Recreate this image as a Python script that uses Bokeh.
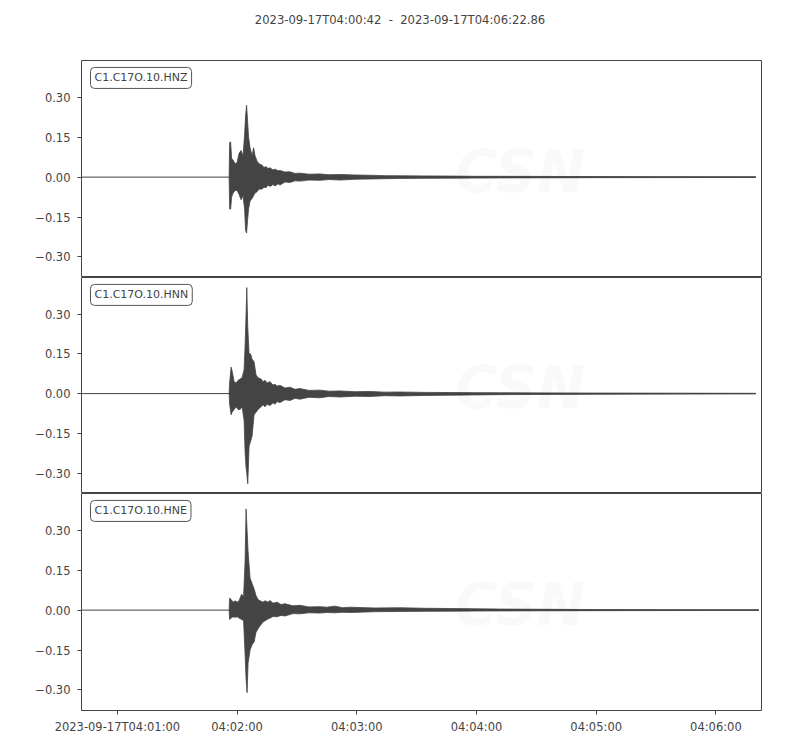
from bokeh.plotting import figure
from bokeh.models import Range1d, FixedTicker, Label, ColumnDataSource, Div
from bokeh.layouts import column
from bokeh.embed import file_html
from bokeh.resources import INLINE

# ---------------- data (seconds after 2023-09-17T04:00:42) ----------------
title_text = "2023-09-17T04:00:42  -  2023-09-17T04:06:22.86"
duration = 340.86
channels = ["C1.C17O.10.HNZ", "C1.C17O.10.HNN", "C1.C17O.10.HNE"]
trace_end = [338.0, 338.0, 339.5]

x_ticks = [18, 78, 138, 198, 258, 318]
x_tick_labels = ["2023-09-17T04:01:00", "04:02:00", "04:03:00",
                 "04:04:00", "04:05:00", "04:06:00"]
y_ticks = [-0.30, -0.15, 0.0, 0.15, 0.30]
y_tick_labels = ["\u22120.30", "\u22120.15", "0.00", "0.15", "0.30"]

# envelope of each trace: time, upper amplitude, lower amplitude
hnz_t = [74.0, 74.25, 74.75, 75.25, 76.0, 77.0, 78.0, 79.0, 80.0, 81.0, 81.75, 82.25,
         82.75, 83.25, 83.75, 84.5, 85.5, 86.25, 87.0, 88.0, 89.0, 90.5, 91.5, 92.5,
         93.5, 94.5, 96.0, 97.0, 98.5, 99.5, 102.0, 104.5, 107.0, 109.5, 114.0, 119.5,
         124.0, 129.5, 137.0, 144.5, 152.0, 159.5, 172.0, 184.5, 197.0, 209.5, 234.5,
         259.5, 284.5, 309.5, 338.0]
hnz_up = [0.0, 0.13, 0.132, 0.07, 0.064, 0.05, 0.055, 0.09, 0.10, 0.08, 0.16, 0.23,
          0.27, 0.21, 0.15, 0.11, 0.08, 0.11, 0.08, 0.06, 0.05, 0.045, 0.036, 0.04,
          0.032, 0.035, 0.027, 0.03, 0.024, 0.025, 0.019, 0.02, 0.014, 0.015, 0.011,
          0.012, 0.009, 0.010, 0.008, 0.007, 0.0055, 0.005, 0.0045, 0.004, 0.003,
          0.003, 0.0025, 0.002, 0.0018, 0.0015, 0.001]
hnz_lo = [0.0, -0.12, -0.12, -0.075, -0.06, -0.05, -0.05, -0.065, -0.085, -0.07, -0.12,
          -0.20, -0.21, -0.16, -0.12, -0.09, -0.08, -0.07, -0.06, -0.055, -0.045, -0.045,
          -0.038, -0.04, -0.03, -0.035, -0.028, -0.033, -0.025, -0.03, -0.018, -0.02,
          -0.014, -0.015, -0.011, -0.012, -0.009, -0.011, -0.008, -0.007, -0.006,
          -0.005, -0.0045, -0.004, -0.0035, -0.003, -0.0025, -0.002, -0.0018, -0.0015,
          -0.001]

hnn_t = [74.0, 74.25, 75.0, 75.5, 76.5, 77.5, 78.5, 79.5, 80.5, 81.5, 82.0, 82.5,
         82.85, 83.35, 84.0, 84.75, 85.5, 86.5, 87.5, 88.5, 90.0, 91.0, 92.0, 93.0,
         94.5, 96.0, 97.0, 98.0, 99.5, 102.0, 104.5, 107.0, 109.5, 114.0, 119.5, 124.0,
         129.5, 137.0, 144.5, 152.0, 159.5, 172.0, 184.5, 197.0, 209.5, 234.5, 259.5,
         299.0, 338.0]
hnn_up = [0.0, 0.04, 0.10, 0.085, 0.045, 0.04, 0.05, 0.055, 0.06, 0.09, 0.18, 0.30,
          0.40, 0.25, 0.15, 0.15, 0.13, 0.12, 0.07, 0.06, 0.055, 0.045, 0.05, 0.04,
          0.045, 0.032, 0.035, 0.028, 0.031, 0.021, 0.024, 0.016, 0.019, 0.012, 0.013,
          0.009, 0.010, 0.007, 0.008, 0.0055, 0.006, 0.0045, 0.004, 0.0035, 0.003,
          0.0025, 0.002, 0.0015, 0.001]
hnn_lo = [0.0, -0.04, -0.08, -0.07, -0.06, -0.05, -0.06, -0.06, -0.05, -0.10, -0.22,
          -0.28, -0.30, -0.34, -0.20, -0.18, -0.16, -0.08, -0.07, -0.06, -0.05, -0.042,
          -0.05, -0.04, -0.045, -0.035, -0.04, -0.03, -0.034, -0.023, -0.026, -0.018,
          -0.021, -0.014, -0.016, -0.011, -0.013, -0.01, -0.011, -0.008, -0.009,
          -0.007, -0.006, -0.005, -0.004, -0.003, -0.0025, -0.0018, -0.001]

hne_t = [74.0, 74.25, 75.0, 76.0, 77.0, 78.0, 79.0, 80.25, 81.25, 82.0, 82.5, 83.0,
         83.5, 84.5, 85.5, 86.5, 87.5, 88.5, 89.5, 91.0, 92.0, 93.5, 94.5, 96.0, 98.0,
         100.0, 102.0, 106.0, 109.5, 114.0, 119.5, 123.0, 127.0, 131.0, 134.5, 147.0,
         159.5, 172.0, 184.5, 197.0, 209.5, 234.5, 259.5, 299.0, 339.5]
hne_up = [0.0, 0.045, 0.04, 0.03, 0.035, 0.03, 0.035, 0.06, 0.05, 0.185, 0.38, 0.30,
          0.22, 0.12, 0.10, 0.08, 0.054, 0.04, 0.035, 0.03, 0.035, 0.03, 0.036, 0.026,
          0.03, 0.021, 0.024, 0.016, 0.018, 0.012, 0.013, 0.011, 0.015, 0.009, 0.011,
          0.008, 0.009, 0.007, 0.006, 0.005, 0.004, 0.003, 0.002, 0.0015, 0.001]
hne_lo = [0.0, -0.035, -0.03, -0.025, -0.027, -0.025, -0.03, -0.035, -0.04, -0.165,
          -0.26, -0.31, -0.20, -0.15, -0.13, -0.12, -0.083, -0.07, -0.059, -0.045,
          -0.04, -0.033, -0.03, -0.024, -0.025, -0.02, -0.022, -0.013, -0.014, -0.01,
          -0.011, -0.009, -0.010, -0.008, -0.009, -0.006, -0.005, -0.0045, -0.004,
          -0.0035, -0.003, -0.0025, -0.002, -0.0015, -0.001]

envelopes = [(hnz_t, hnz_up, hnz_lo), (hnn_t, hnn_up, hnn_lo), (hne_t, hne_up, hne_lo)]

# ---------------- styling ----------------
FONT = "DejaVu Sans"
TXT = "#444444"
WAVE = "#444444"
y_min, y_max = -0.377, 0.438
y_span = y_max - y_min

title_div = Div(text=title_text, width=800, height=40, margin=0,
                styles={"font-family": FONT, "font-size": "11.6px", "color": TXT,
                        "text-align": "center", "white-space": "pre",
                        "padding-top": "13px", "box-sizing": "border-box",
                        "width": "800px", "line-height": "14px"})

x_range = Range1d(0, duration)
frame_h = [217, 216, 217]
figs = []
for i, (name, (t, up, lo)) in enumerate(zip(channels, envelopes)):
    top = 20 if i == 0 else 0
    bottom = 38 if i == 2 else 0
    p = figure(width=800, height=frame_h[i] + top + bottom,
               x_range=x_range, y_range=Range1d(y_min, y_max),
               output_backend="svg", toolbar_location=None,
               x_axis_location="below" if i == 2 else None,
               min_border_left=81, min_border_right=39,
               min_border_top=top, min_border_bottom=bottom, margin=0)
    p.outline_line_color = "#444444"
    p.outline_line_width = 1
    p.xgrid.visible = False
    p.ygrid.visible = False
    p.background_fill_color = "white"

    # watermark (very faint)
    p.add_layout(Label(x=duration * 0.549, y=y_min + y_span * 0.33, text="CSN",
                       text_font=FONT, text_font_size="58px", text_font_style="bold italic",
                       text_color="#000000", text_alpha=0.022,
                       text_align="left", text_baseline="bottom"))
    p.add_layout(Label(x=duration * 0.662, y=y_min + y_span * 0.244,
                       text="CENTRO SISMOLÓGICO NACIONAL", text_font=FONT,
                       text_font_size="12.5px", text_font_style="italic",
                       text_color="#000000", text_alpha=0.02,
                       text_align="left", text_baseline="middle"))
    p.add_layout(Label(x=duration * 0.662, y=y_min + y_span * 0.166,
                       text="UNIVERSIDAD DE CHILE", text_font=FONT,
                       text_font_size="12.5px", text_font_style="italic",
                       text_color="#000000", text_alpha=0.02,
                       text_align="left", text_baseline="middle"))

    # baseline of the trace
    p.line([0.0, trace_end[i]], [0.0, 0.0], line_color=WAVE, line_width=1)
    src = ColumnDataSource(dict(t=t, up=up, lo=lo))
    p.varea(x="t", y1="lo", y2="up", source=src, fill_color=WAVE)
    p.line(x="t", y="up", source=src, line_color=WAVE, line_width=0.8)
    p.line(x="t", y="lo", source=src, line_color=WAVE, line_width=0.8)

    # station label
    p.add_layout(Label(x=4.5, y=y_max - 0.026, text=name,
                       text_font=FONT, text_font_size="11px", text_color=TXT,
                       text_align="left", text_baseline="top",
                       padding=4, border_radius=4,
                       background_fill_color="white",
                       border_line_color="#555555", border_line_width=1))

    # y axis
    ya = p.yaxis[0]
    ya.ticker = FixedTicker(ticks=y_ticks)
    ya.major_label_overrides = {v: s for v, s in zip(y_ticks, y_tick_labels)}
    ya.axis_line_color = None
    ya.major_tick_line_color = TXT
    ya.major_tick_out = 4
    ya.major_tick_in = 0
    ya.minor_tick_line_color = None
    ya.major_label_text_font = FONT
    ya.major_label_text_font_size = "11.5px"
    ya.major_label_text_color = TXT
    ya.major_label_standoff = 7

    if i == 2:
        xa = p.xaxis[0]
        xa.ticker = FixedTicker(ticks=x_ticks)
        xa.major_label_overrides = {v: s for v, s in zip(x_ticks, x_tick_labels)}
        xa.axis_line_color = None
        xa.major_tick_line_color = TXT
        xa.major_tick_out = 4
        xa.major_tick_in = 0
        xa.minor_tick_line_color = None
        xa.major_label_text_font = FONT
        xa.major_label_text_font_size = "11.5px"
        xa.major_label_text_color = TXT
        xa.major_label_standoff = 5
    figs.append(p)

layout = column(title_div, *figs, spacing=0)
open("out.html", "w").write(file_html(layout, INLINE))
